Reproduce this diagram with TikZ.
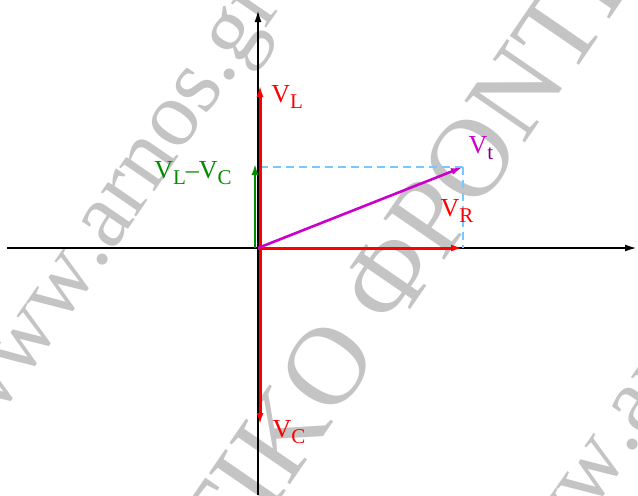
\documentclass[tikz,border=0pt]{standalone}
\usepackage{fontspec}
\setmainfont{Liberation Serif}
\usetikzlibrary{arrows.meta}

\definecolor{vmag}{RGB}{204,0,204}
\definecolor{vpurp}{RGB}{128,0,128}
\definecolor{vgreen}{RGB}{0,140,0}
\definecolor{dashblue}{RGB}{120,200,255}
\definecolor{wmark}{RGB}{196,196,196}
\newcommand{\lowidx}[1]{\raisebox{-0.55ex}{\fontsize{10.5}{12}\selectfont #1}}

\begin{document}
\begin{tikzpicture}[x=0.5pt, y=-0.5pt, >={Latex[length=6pt,width=3.5pt]},
    every node/.style={font=\fontsize{13}{15}\selectfont, inner sep=0pt},
    wm/.style={text=wmark, font=\fontsize{46.5}{50}\selectfont, anchor=base west},
    axis/.style={line width=1pt, ->},
    vec/.style={line width=1.5pt, ->},
    helper/.style={dashblue, line width=1pt, dash pattern=on 4pt off 2.5pt}]
  \useasboundingbox (0,0) rectangle (638,495);

  % ---------- watermark ----------
  \begin{scope}
    \clip (0,0) rectangle (638,495);
    \node[wm, rotate=55.5] (wm1) at (99,272) {\llap{www}.arnos.gr};
    \node[wm, rotate=55.5] (wm3) at (629,457) {\llap{www}.arnos.gr};
    \node[wm, rotate=55.5, font=\fontsize{56}{60}\selectfont] (wm2) at (334,421)
      {\llap{ΕΚΠΑΙΔΕΥΤΙΚ}Ο ΦΡΟΝΤΙΣΤΗΡΙΟ};
  \end{scope}

  % ---------- points ----------
  \coordinate (O) at (258,248);
  \coordinate (xl) at (7,248);
  \coordinate (xr) at (637,248);
  \coordinate (yb) at (258,495);
  \coordinate (yt) at (258,10);
  \coordinate (oR) at (260,248);
  \coordinate (tL) at (260,85);
  \coordinate (tC) at (260,425);
  \coordinate (tR) at (463,248);
  \coordinate (tT) at (463,167);
  \coordinate (oG) at (255,248);
  \coordinate (tG) at (255,163);
  \coordinate (hL) at (260,167);

  % ---------- axes ----------
  \draw[axis] (xl) -- (xr);
  \draw[axis] (yb) -- (yt);

  % ---------- helper lines ----------
  \draw[helper] (hL) -- (tT);
  \draw[helper] (tT) -- (tR);

  % ---------- vectors ----------
  \draw[vec, red] (oR) -- (tL);
  \draw[vec, red] (oR) -- (tC);
  \draw[vec, red] (O) -- (tR);
  \draw[vec, vgreen, line width=1.2pt] (oG) -- (tG);
  \draw[vec, vmag, line width=1.3pt] (O) -- (tT);

  % ---------- labels ----------
  \node[text=red, anchor=west] (lVL) at (271,97) {V\lowidx{L}};
  \node[text=vgreen] (lVLC) at (193,173) {V\lowidx{L}–V\lowidx{C}};
  \node (lVt) at (481,148) {\textcolor{vmag}{V}\lowidx{\textcolor{vpurp}{t}}};
  \node[text=red] (lVR) at (457,211) {V\lowidx{R}};
  \node[text=red] (lVC) at (289,432) {V\lowidx{C}};
\end{tikzpicture}
\end{document}
